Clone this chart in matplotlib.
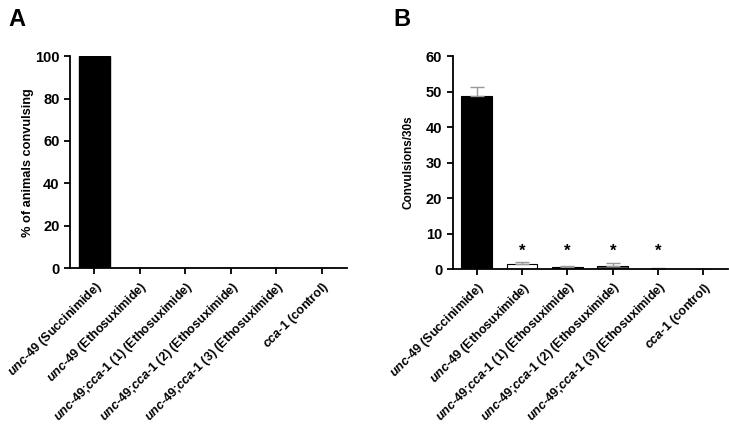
import numpy as np
import matplotlib.pyplot as plt

plt.rcParams['font.family'] = ['Liberation Sans', 'DejaVu Sans']
plt.rcParams['font.weight'] = 'bold'
plt.rcParams['mathtext.fontset'] = 'custom'
plt.rcParams['mathtext.it'] = 'Liberation Sans:bold:italic'
plt.rcParams['mathtext.rm'] = 'Liberation Sans:bold'

labels = [r"$\mathit{unc}$-$\mathit{49}$ (Succinimide)",
          r"$\mathit{unc}$-$\mathit{49}$ (Ethosuximide)",
          r"$\mathit{unc}$-$\mathit{49}$;$\mathit{cca}$-$\mathit{1}$ (1) (Ethosuximide)",
          r"$\mathit{unc}$-$\mathit{49}$;$\mathit{cca}$-$\mathit{1}$ (2) (Ethosuximide)",
          r"$\mathit{unc}$-$\mathit{49}$;$\mathit{cca}$-$\mathit{1}$ (3) (Ethosuximide)",
          r"$\mathit{cca}$-$\mathit{1}$ (control)"]

pct_convulsing = [100, 0, 0, 0, 0, 0]
conv_mean = [48.8, 1.3, 0.5, 0.9, 0.1, 0.0]
conv_err = [2.4, 0.6, 0.3, 0.7, 0.05, 0.0]
signif = [False, True, True, True, True, False]

colors_b = ['black', 'white', '#444444', '#555555', '#666666', '#777777']

fig = plt.figure(figsize=(7.29, 4.25), dpi=100)
axA = fig.add_axes([0.096, 0.369, 0.380, 0.499])
axB = fig.add_axes([0.621, 0.367, 0.378, 0.501])

x = np.arange(len(labels))

def style(ax, ymax, step, ylabel, ylsize, pad):
    ax.set_ylim(0, ymax)
    ax.set_yticks(np.arange(0, ymax + 1, step))
    ax.set_xlim(-0.53, 5.55)
    ax.set_xticks(x)
    ax.set_xticklabels(labels, rotation=45, ha='right', rotation_mode='anchor')
    ax.spines['top'].set_visible(False)
    ax.spines['right'].set_visible(False)
    ax.spines['left'].set_linewidth(1.3)
    ax.spines['bottom'].set_linewidth(1.3)
    ax.tick_params(width=1.3, length=4, labelsize=10.5)
    ax.tick_params(axis='x', labelsize=9)
    ax.set_ylabel(ylabel, fontsize=ylsize, fontweight='bold', labelpad=pad)

axA.bar(x, pct_convulsing, width=0.68, color='black', edgecolor='black')
style(axA, 100, 20, '% of animals convulsing', 9.2, 1)

axB.bar(x, conv_mean, width=0.68, color=colors_b, edgecolor='black', linewidth=0.8)
axB.errorbar(x, conv_mean, yerr=[np.zeros(len(x)), conv_err], fmt='none',
             ecolor='#999999', capsize=5, elinewidth=1)
for i, s in enumerate(signif):
    if s:
        axB.text(x[i], 2.8, '*', ha='center', va='bottom', fontsize=12)
style(axB, 60, 10, 'Convulsions/30s', 8.5, 8)

fig.text(0.012, 0.955, 'A', fontsize=17, fontweight='bold', va='center')
fig.text(0.54, 0.955, 'B', fontsize=17, fontweight='bold', va='center')

fig.savefig('out.png', dpi=100)
